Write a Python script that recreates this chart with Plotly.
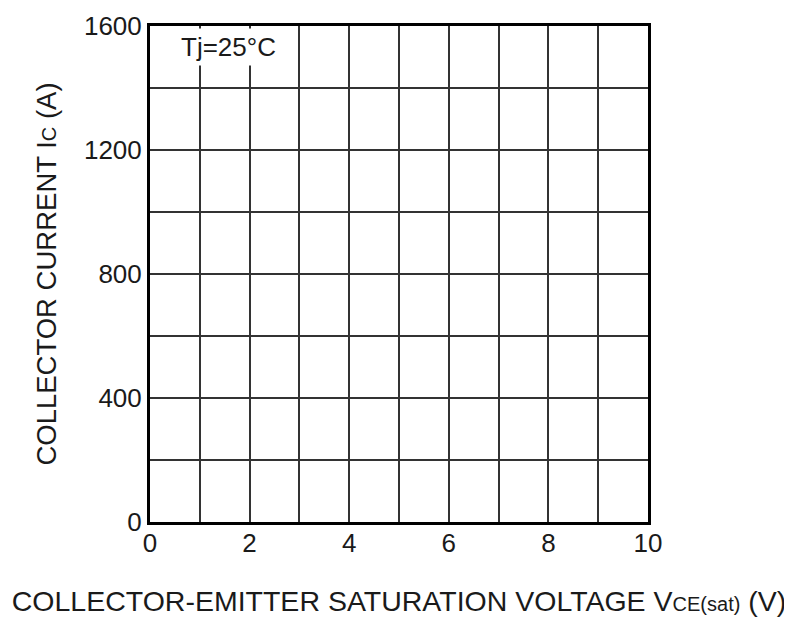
import plotly.graph_objects as go

x_ticks = [0, 2, 4, 6, 8, 10]
y_ticks = [0, 400, 800, 1200, 1600]
x_range = [0, 10]
y_range = [0, 1600]
condition_label = "Tj=25°C"
x_title = "COLLECTOR-EMITTER SATURATION VOLTAGE V<span style='font-size:20px'>CE(sat)</span> (V)"
y_title = "COLLECTOR CURRENT I<span style='font-size:20px'>C</span> (A)"

font_family = "Liberation Sans, Arial, sans-serif"

fig = go.Figure()
fig.add_trace(go.Scatter(x=[], y=[], mode="lines", showlegend=False))

fig.update_layout(
    width=784, height=613,
    margin=dict(l=142, r=144, t=18, b=99),
    paper_bgcolor="white", plot_bgcolor="white",
    font=dict(family=font_family, color="#1a1a1a", size=24),
    showlegend=False,
)

fig.update_xaxes(
    range=x_range, tickvals=x_ticks, ticks="", ticklen=0, automargin=False,
    showline=True, linecolor="black", linewidth=3, mirror=True,
    showgrid=True, gridcolor="#333333", gridwidth=1.8,
    minor=dict(dtick=1, showgrid=True, gridcolor="#333333", gridwidth=1.8),
    tickfont=dict(size=26), zeroline=False, ticklabelstandoff=-4,
    title=dict(text=x_title, font=dict(size=28.5), standoff=34),
)
fig.update_yaxes(
    range=y_range, tickvals=y_ticks, ticks="", ticklen=0, automargin=False,
    showline=True, linecolor="black", linewidth=3, mirror=True,
    showgrid=True, gridcolor="#333333", gridwidth=1.8,
    minor=dict(dtick=200, showgrid=True, gridcolor="#333333", gridwidth=1.8),
    tickfont=dict(size=26), zeroline=False,
    title=dict(text=y_title, font=dict(size=27.5), standoff=20),
)

fig.add_annotation(
    x=1.58, y=1532, xref="x", yref="y", text=condition_label,
    showarrow=False, font=dict(size=26), bgcolor="white", borderpad=3,
    xanchor="center", yanchor="middle",
)

fig.write_html("out.html")
